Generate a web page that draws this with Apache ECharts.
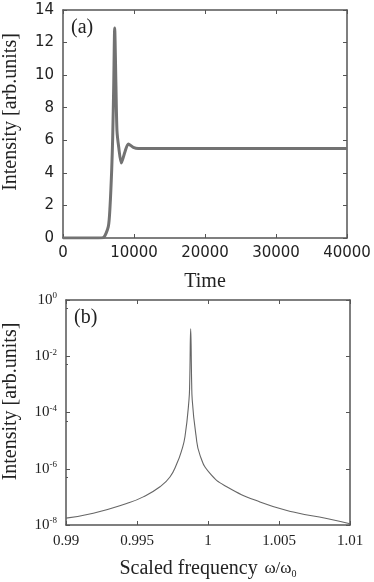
<!DOCTYPE html>
<html>
<head>
<meta charset="utf-8">
<script src="https://cdn.jsdelivr.net/npm/echarts@6/dist/echarts.min.js"></script>
<style>
  html, body { margin: 0; padding: 0; background: #fff; }
  #chart { width: 374px; height: 582px; }
</style>
</head>
<body>
<div id="chart"></div>
<script>
// (a) time trace
const timeVals = [0, 5000, 5680, 6380, 6620, 6860, 7000, 7140, 7280, 7460, 7600, 7840, 8210, 8730, 9200, 9900, 10600, 12000, 40000];
const intensityVals = [0, 0, 0.02, 0.7, 1.9, 4.2, 6.2, 9.3, 12.9, 9.3, 6.6, 5.6, 4.6, 5.3, 5.77, 5.57, 5.5, 5.5, 5.5];

// (b) spectrum
const freqVals = [0.99, 0.99192, 0.99427, 0.99544, 0.99662, 0.99732, 0.9978, 0.99815, 0.99838, 0.99866, 0.99871, 0.99878,
  0.99885, 0.99889, 0.99915, 0.99944, 1.00014, 1.00132, 1.00366, 1.00601, 1.00836, 1.01];
const spectrumVals = [1.75e-8, 2.6e-8, 5.8e-8, 1.0e-7, 2.3e-7, 5.1e-7, 1.5e-6, 4.6e-6, 1.4e-5, 2.8e-4, 1.1e-3, 0.095,
  1.1e-3, 2.8e-4, 1.6e-5, 3.0e-6, 6.8e-7, 2.3e-7, 6.6e-8, 2.9e-8, 1.7e-8, 1.1e-8];

const frameColor = '#555';
const textColor = '#222';
const serif = '"Liberation Serif", "Times New Roman", serif';
const sans = '"DejaVu Sans", Verdana, sans-serif';

const chart = echarts.init(document.getElementById('chart'));

const axisLine = () => ({ show: true, onZero: false, lineStyle: { color: frameColor, width: 1.5 } });
const axisTick = () => ({ show: true, inside: true, length: 4, lineStyle: { color: frameColor } });

const mirror = (extra) => Object.assign({
  axisLine: axisLine(),
  axisTick: axisTick(),
  axisLabel: { show: false },
  splitLine: { show: false }
}, extra);

const option = {
  animation: false,
  backgroundColor: '#fff',
  grid: [
    { left: 63, top: 10, width: 284, height: 228, containLabel: false, outerBoundsMode: 'none' },
    { left: 66, top: 300, width: 284, height: 225, containLabel: false, outerBoundsMode: 'none' }
  ],
  xAxis: [
    {
      gridIndex: 0, type: 'value', min: 0, max: 40000, interval: 10000,
      name: 'Time', nameLocation: 'middle', nameGap: 34,
      nameTextStyle: { fontFamily: serif, fontSize: 20, color: textColor },
      axisLine: axisLine(),
      axisTick: axisTick(),
      axisLabel: { fontFamily: sans, fontSize: 15, color: textColor, margin: 8, formatter: (v) => String(v) },
      splitLine: { show: false }
    },
    {
      gridIndex: 1, type: 'value', min: 0.99, max: 1.01, interval: 0.005,
      name: '{t|Scaled frequency}  {w|ω/ω}{s|0}', nameLocation: 'middle', nameGap: 34,
      nameTextStyle: {
        color: textColor,
        rich: {
          t: { fontFamily: serif, fontSize: 20, color: textColor },
          w: { fontFamily: serif, fontSize: 17, color: textColor },
          s: { fontFamily: serif, fontSize: 10, color: textColor, verticalAlign: 'bottom', padding: [10, 0, 0, 0] }
        }
      },
      axisLine: axisLine(),
      axisTick: axisTick(),
      axisLabel: { fontFamily: serif, fontSize: 15, color: textColor, margin: 9,
        formatter: (v) => String(parseFloat(v.toFixed(3))) },
      splitLine: { show: false }
    },
    mirror({ gridIndex: 0, type: 'value', position: 'top', min: 0, max: 40000, interval: 10000 }),
    mirror({ gridIndex: 1, type: 'value', position: 'top', min: 0.99, max: 1.01, interval: 0.005 })
  ],
  yAxis: [
    {
      gridIndex: 0, type: 'value', min: 0, max: 14, interval: 2,
      name: 'Intensity [arb.units]', nameLocation: 'middle', nameGap: 42, nameRotate: 90,
      nameTextStyle: { fontFamily: serif, fontSize: 20, color: textColor, padding: [0, 0, 0, 24] },
      axisLine: axisLine(),
      axisTick: axisTick(),
      axisLabel: { fontFamily: sans, fontSize: 15, color: textColor, margin: 9 },
      splitLine: { show: false }
    },
    {
      gridIndex: 1, type: 'log', logBase: 10, min: 1e-8, max: 1, interval: 2,
      name: 'Intensity [arb.units]', nameLocation: 'middle', nameGap: 45, nameRotate: 90,
      nameTextStyle: { fontFamily: serif, fontSize: 20, color: textColor, padding: [0, 0, 0, 22] },
      axisLine: axisLine(),
      axisTick: axisTick(),
      minorTick: { show: true, splitNumber: 2, length: 2, lineStyle: { color: frameColor } },
      axisLabel: {
        color: textColor, margin: 9,
        formatter: (v) => '{b|10}{sup|' + Math.round(Math.log10(v)) + '}',
        rich: {
          b: { fontFamily: serif, fontSize: 15, color: textColor },
          sup: { fontFamily: serif, fontSize: 9, color: textColor, verticalAlign: 'top', padding: [0, 0, 8, 0] }
        }
      },
      splitLine: { show: false }
    },
    mirror({ gridIndex: 0, type: 'value', position: 'right', min: 0, max: 14, interval: 2 }),
    mirror({ gridIndex: 1, type: 'log', logBase: 10, position: 'right', min: 1e-8, max: 1, interval: 2 })
  ],
  graphic: [
    { type: 'text', left: 71, top: 18, style: { text: '(a)', font: '20px ' + serif, fill: textColor } },
    { type: 'text', left: 74, top: 308, style: { text: '(b)', font: '20px ' + serif, fill: textColor } }
  ],
  series: [
    {
      type: 'line', xAxisIndex: 0, yAxisIndex: 0, showSymbol: false, smooth: 0.25,
      lineStyle: { color: '#727272', width: 3 },
      data: timeVals.map((t, i) => [t, intensityVals[i]])
    },
    {
      type: 'line', xAxisIndex: 1, yAxisIndex: 1, showSymbol: false, smooth: 0.5,
      lineStyle: { color: '#666', width: 1.1 },
      data: freqVals.map((f, i) => [f, spectrumVals[i]])
    }
  ]
};

chart.setOption(option);
</script>
</body>
</html>
